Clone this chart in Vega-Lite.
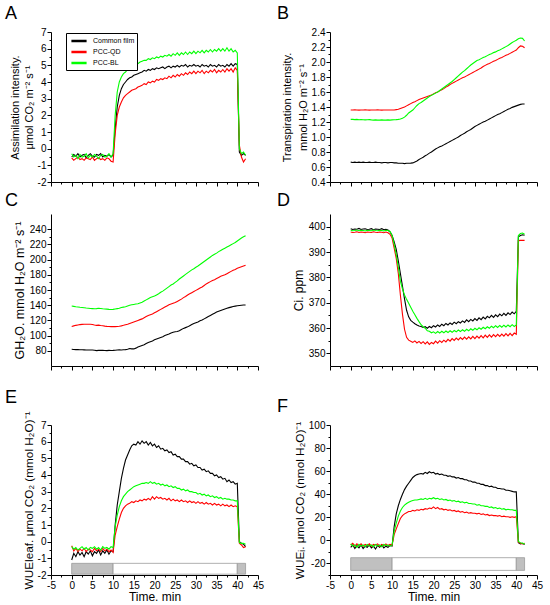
{
"$schema":"https://vega.github.io/schema/vega-lite/v6.json",
"background":"white",
"padding":5,
"config":{"font":"Liberation Sans","view":{"stroke":null},
"axis":{"grid":false,"domainColor":"#000","tickColor":"#000","labelColor":"#000","titleColor":"#000","labelFontSize":10,"titleFontSize":11,"titleFontWeight":"normal","tickSize":4,"labelPadding":1,"titlePadding":3,"labelFont":"Liberation Sans","titleFont":"Liberation Sans","domainWidth":1,"tickWidth":1,"labelFlush":false,"labelOverlap":false},
"title":{"fontSize":18,"fontWeight":"normal","anchor":"start","frame":"group","color":"#000","font":"Liberation Sans"}},
"data":{"values":[
{"t":0,"a1":-0.5,"a2":-0.55,"a3":-0.3,"b1":0.665,"b2":1.36,"b3":1.235,"c1":82,"c2":112,"c3":139,"d1":399.2,"d2":397.9,"d3":398.6,"e1":-1.1,"e2":-0.25,"e3":-0.3,"f1":-6,"f2":-4,"f3":-3},
{"t":0.5,"a1":-0.35,"a2":-0.7,"a3":-0.5,"b1":0.66,"b2":1.36,"b3":1.235,"c1":81.8,"c2":112.8,"c3":138.5,"d1":398.9,"d2":397.7,"d3":398.4,"e1":-0.7,"e2":-0.55,"e3":-0.45,"f1":-4,"f2":-2.5,"f3":-5},
{"t":1,"a1":-0.45,"a2":-0.6,"a3":-0.4,"b1":0.665,"b2":1.362,"b3":1.232,"c1":81.6,"c2":113.5,"c3":138,"d1":399.1,"d2":397.8,"d3":398.5,"e1":-0.9,"e2":-0.4,"e3":-0.35,"f1":-7,"f2":-5,"f3":-4},
{"t":1.5,"a1":-0.3,"a2":-0.5,"a3":-0.6,"b1":0.66,"b2":1.36,"b3":1.235,"c1":81.5,"c2":114,"c3":137.7,"d1":399.0,"d2":398.0,"d3":398.7,"e1":-0.6,"e2":-0.6,"e3":-0.5,"f1":-4.5,"f2":-3,"f3":-6},
{"t":2,"a1":-0.5,"a2":-0.65,"a3":-0.35,"b1":0.665,"b2":1.358,"b3":1.23,"c1":81.4,"c2":114.5,"c3":137.3,"d1":399.3,"d2":397.7,"d3":398.4,"e1":-0.8,"e2":-0.45,"e3":-0.4,"f1":-6.5,"f2":-4.5,"f3":-3.5},
{"t":2.5,"a1":-0.4,"a2":-0.6,"a3":-0.5,"b1":0.66,"b2":1.36,"b3":1.232,"c1":81.3,"c2":114.8,"c3":137,"d1":398.9,"d2":397.9,"d3":398.6,"e1":-0.65,"e2":-0.55,"e3":-0.3,"f1":-4,"f2":-3,"f3":-5},
{"t":3,"a1":-0.35,"a2":-0.7,"a3":-0.45,"b1":0.665,"b2":1.36,"b3":1.23,"c1":81.2,"c2":115,"c3":136.7,"d1":399.1,"d2":397.8,"d3":398.5,"e1":-0.9,"e2":-0.4,"e3":-0.45,"f1":-7,"f2":-5,"f3":-4},
{"t":3.5,"a1":-0.55,"a2":-0.55,"a3":-0.3,"b1":0.66,"b2":1.362,"b3":1.228,"c1":81.1,"c2":115,"c3":136.3,"d1":399.2,"d2":397.6,"d3":398.3,"e1":-0.6,"e2":-0.6,"e3":-0.35,"f1":-5,"f2":-3.5,"f3":-5.5},
{"t":4,"a1":-0.4,"a2":-0.6,"a3":-0.55,"b1":0.66,"b2":1.36,"b3":1.23,"c1":81,"c2":115,"c3":136,"d1":398.9,"d2":397.9,"d3":398.6,"e1":-0.75,"e2":-0.45,"e3":-0.5,"f1":-6,"f2":-4.5,"f3":-3.5},
{"t":4.5,"a1":-0.3,"a2":-0.65,"a3":-0.4,"b1":0.665,"b2":1.358,"b3":1.232,"c1":81,"c2":115,"c3":135.7,"d1":399.0,"d2":397.8,"d3":398.5,"e1":-0.55,"e2":-0.5,"e3":-0.35,"f1":-4,"f2":-3,"f3":-5},
{"t":5,"a1":-0.45,"a2":-0.5,"a3":-0.5,"b1":0.66,"b2":1.36,"b3":1.228,"c1":81,"c2":114.7,"c3":135.5,"d1":399.2,"d2":397.7,"d3":398.4,"e1":-0.85,"e2":-0.6,"e3":-0.4,"f1":-6.5,"f2":-5,"f3":-4},
{"t":5.5,"a1":-0.5,"a2":-0.7,"a3":-0.35,"b1":0.66,"b2":1.36,"b3":1.225,"c1":80.8,"c2":114,"c3":135.3,"d1":398.8,"d2":398.0,"d3":398.7,"e1":-0.6,"e2":-0.4,"e3":-0.3,"f1":-5,"f2":-3.5,"f3":-5.5},
{"t":6,"a1":-0.35,"a2":-0.6,"a3":-0.45,"b1":0.665,"b2":1.36,"b3":1.228,"c1":80.2,"c2":113.5,"c3":135.5,"d1":399.1,"d2":397.8,"d3":398.5,"e1":-0.7,"e2":-0.55,"e3":-0.45,"f1":-7.5,"f2":-4,"f3":-3.5},
{"t":6.5,"a1":-0.4,"a2":-0.55,"a3":-0.6,"b1":0.66,"b2":1.362,"b3":1.225,"c1":80.5,"c2":113.8,"c3":136,"d1":399.0,"d2":397.7,"d3":398.4,"e1":-0.5,"e2":-0.45,"e3":-0.35,"f1":-4.5,"f2":-3,"f3":-5},
{"t":7,"a1":-0.3,"a2":-0.65,"a3":-0.4,"b1":0.66,"b2":1.36,"b3":1.225,"c1":80.8,"c2":113.3,"c3":135.7,"d1":398.9,"d2":397.9,"d3":398.6,"e1":-0.8,"e2":-0.6,"e3":-0.5,"f1":-6,"f2":-5,"f3":-4},
{"t":7.5,"a1":-0.5,"a2":-0.6,"a3":-0.35,"b1":0.655,"b2":1.358,"b3":1.228,"c1":80.6,"c2":113,"c3":135.3,"d1":399.2,"d2":397.8,"d3":398.5,"e1":-0.55,"e2":-0.4,"e3":-0.3,"f1":-4,"f2":-3.5,"f3":-5.5},
{"t":8,"a1":-0.4,"a2":-0.7,"a3":-0.5,"b1":0.66,"b2":1.36,"b3":1.225,"c1":80.4,"c2":112.5,"c3":135,"d1":398.8,"d2":397.6,"d3":398.3,"e1":-0.7,"e2":-0.55,"e3":-0.4,"f1":-6.5,"f2":-4.5,"f3":-3.5},
{"t":8.5,"a1":-0.45,"a2":-0.55,"a3":-0.45,"b1":0.66,"b2":1.36,"b3":1.225,"c1":80.2,"c2":112.2,"c3":134.8,"d1":399.0,"d2":397.9,"d3":398.6,"e1":-0.5,"e2":-0.45,"e3":-0.35,"f1":-5,"f2":-3,"f3":-4.5},
{"t":9,"a1":-0.35,"a2":-0.6,"a3":-0.3,"b1":0.655,"b2":1.36,"b3":1.228,"c1":80.5,"c2":112,"c3":134.5,"d1":398.7,"d2":397.6,"d3":398.5,"e1":-0.75,"e2":-0.6,"e3":-0.45,"f1":-6,"f2":-4.5,"f3":-4},
{"t":9.5,"a1":-0.5,"a2":-0.75,"a3":-0.5,"b1":0.66,"b2":1.36,"b3":1.225,"c1":80.3,"c2":111.8,"c3":134.3,"d1":398,"d2":397,"d3":398.1,"e1":-0.55,"e2":-0.5,"e3":-0.3,"f1":-4.5,"f2":-3.5,"f3":-5},
{"t":10,"a1":-0.4,"a2":-0.8,"a3":-0.3,"b1":0.66,"b2":1.36,"b3":1.228,"c1":80.5,"c2":111.8,"c3":134.5,"d1":396.5,"d2":395.5,"d3":396.5,"e1":-0.6,"e2":-0.65,"e3":-0.35,"f1":-5,"f2":-4,"f3":-4},
{"t":10.5,"a1":1.2,"a2":0.9,"a3":2.0,"b1":0.655,"b2":1.36,"b3":1.23,"c1":80.8,"c2":111.8,"c3":135,"d1":394,"d2":391.5,"d3":393,"e1":1.0,"e2":0.4,"e3":0.9,"f1":12,"f2":5,"f3":8},
{"t":11,"a1":2.5,"a2":2.0,"a3":3.4,"b1":0.655,"b2":1.365,"b3":1.232,"c1":81,"c2":112,"c3":135.5,"d1":391,"d2":387.5,"d3":389,"e1":2.2,"e2":0.9,"e3":1.6,"f1":23,"f2":10,"f3":15},
{"t":11.5,"a1":3.2,"a2":2.5,"a3":4.0,"b1":0.65,"b2":1.37,"b3":1.235,"c1":81.2,"c2":112.3,"c3":136,"d1":386.5,"d2":381.5,"d3":384,"e1":3.0,"e2":1.35,"e3":2.1,"f1":30,"f2":14.5,"f3":21},
{"t":12,"a1":3.6,"a2":2.8,"a3":4.3,"b1":0.65,"b2":1.38,"b3":1.24,"c1":81.1,"c2":112.8,"c3":137,"d1":381.5,"d2":373,"d3":378.5,"e1":3.8,"e2":1.75,"e3":2.45,"f1":35.5,"f2":19,"f3":25.5},
{"t":12.5,"a1":3.85,"a2":3.05,"a3":4.5,"b1":0.65,"b2":1.39,"b3":1.25,"c1":81.3,"c2":113.5,"c3":137.5,"d1":376.5,"d2":365.5,"d3":375.5,"e1":4.4,"e2":2.0,"e3":2.7,"f1":40,"f2":21.5,"f3":28.5},
{"t":13,"a1":4.0,"a2":3.2,"a3":4.6,"b1":0.645,"b2":1.40,"b3":1.265,"c1":81.5,"c2":114.3,"c3":138,"d1":371.5,"d2":359.5,"d3":373,"e1":4.9,"e2":2.15,"e3":2.85,"f1":44,"f2":23,"f3":30.5},
{"t":13.5,"a1":4.15,"a2":3.3,"a3":4.75,"b1":0.65,"b2":1.415,"b3":1.29,"c1":82,"c2":115,"c3":139,"d1":367,"d2":356.3,"d3":371.3,"e1":5.2,"e2":2.25,"e3":3.0,"f1":47,"f2":24,"f3":32},
{"t":14,"a1":4.25,"a2":3.4,"a3":4.85,"b1":0.65,"b2":1.43,"b3":1.32,"c1":83,"c2":116,"c3":140,"d1":364.4,"d2":355.2,"d3":369.8,"e1":5.5,"e2":2.3,"e3":3.1,"f1":49.5,"f2":25,"f3":33},
{"t":14.5,"a1":4.3,"a2":3.5,"a3":4.9,"b1":0.652,"b2":1.445,"b3":1.34,"c1":82.5,"c2":117,"c3":140.5,"d1":363,"d2":354.8,"d3":368.2,"e1":5.75,"e2":2.4,"e3":3.2,"f1":52,"f2":25,"f3":34},
{"t":15,"a1":4.4,"a2":3.55,"a3":5.0,"b1":0.655,"b2":1.46,"b3":1.36,"c1":82.5,"c2":118,"c3":141,"d1":362.3,"d2":354.3,"d3":366.6,"e1":5.85,"e2":2.35,"e3":3.3,"f1":54.5,"f2":26,"f3":34.5},
{"t":15.5,"a1":4.45,"a2":3.6,"a3":5.1,"b1":0.668,"b2":1.47,"b3":1.39,"c1":83.5,"c2":119,"c3":141.5,"d1":361.7,"d2":354.9,"d3":365.2,"e1":5.8,"e2":2.45,"e3":3.35,"f1":56,"f2":25.5,"f3":35},
{"t":16,"a1":4.5,"a2":3.7,"a3":5.1,"b1":0.68,"b2":1.485,"b3":1.42,"c1":85,"c2":120,"c3":142,"d1":361.2,"d2":354.1,"d3":363.8,"e1":6.0,"e2":2.4,"e3":3.4,"f1":57,"f2":26.5,"f3":35},
{"t":16.5,"a1":4.55,"a2":3.75,"a3":5.2,"b1":0.70,"b2":1.50,"b3":1.445,"c1":86,"c2":121,"c3":143,"d1":360.8,"d2":354.7,"d3":362.5,"e1":5.85,"e2":2.5,"e3":3.45,"f1":57.5,"f2":26,"f3":35.5},
{"t":17,"a1":4.6,"a2":3.8,"a3":5.25,"b1":0.715,"b2":1.51,"b3":1.46,"c1":87,"c2":122,"c3":144,"d1":360.6,"d2":353.9,"d3":361.3,"e1":6.05,"e2":2.45,"e3":3.5,"f1":58,"f2":27,"f3":36},
{"t":17.5,"a1":4.7,"a2":3.9,"a3":5.3,"b1":0.73,"b2":1.52,"b3":1.48,"c1":88,"c2":123.5,"c3":145.5,"d1":360.2,"d2":354.6,"d3":360.5,"e1":5.9,"e2":2.55,"e3":3.5,"f1":57.5,"f2":26.5,"f3":35.5},
{"t":18,"a1":4.65,"a2":3.85,"a3":5.3,"b1":0.75,"b2":1.53,"b3":1.50,"c1":89.5,"c2":125,"c3":147,"d1":360.5,"d2":353.7,"d3":359.9,"e1":6.0,"e2":2.5,"e3":3.55,"f1":59,"f2":27.5,"f3":36.5},
{"t":18.5,"a1":4.75,"a2":4.0,"a3":5.4,"b1":0.765,"b2":1.54,"b3":1.52,"c1":91,"c2":126.5,"c3":148.5,"d1":359.9,"d2":354.5,"d3":358.9,"e1":5.8,"e2":2.6,"e3":3.5,"f1":58,"f2":27,"f3":35.5},
{"t":19,"a1":4.7,"a2":3.95,"a3":5.35,"b1":0.785,"b2":1.55,"b3":1.54,"c1":92,"c2":127.5,"c3":150,"d1":360.6,"d2":353.5,"d3":358.7,"e1":5.95,"e2":2.5,"e3":3.6,"f1":59.5,"f2":28,"f3":36.5},
{"t":19.5,"a1":4.8,"a2":4.05,"a3":5.45,"b1":0.80,"b2":1.56,"b3":1.555,"c1":93,"c2":128.5,"c3":151,"d1":360.1,"d2":354.3,"d3":358.1,"e1":5.75,"e2":2.7,"e3":3.5,"f1":58.5,"f2":27.5,"f3":36},
{"t":20,"a1":4.75,"a2":4.0,"a3":5.4,"b1":0.82,"b2":1.575,"b3":1.57,"c1":94.5,"c2":130,"c3":152,"d1":360.9,"d2":353.8,"d3":358.5,"e1":5.85,"e2":2.55,"e3":3.55,"f1":59,"f2":29,"f3":37},
{"t":20.5,"a1":4.85,"a2":4.15,"a3":5.5,"b1":0.84,"b2":1.59,"b3":1.585,"c1":95.5,"c2":131.5,"c3":153.5,"d1":360.4,"d2":354.8,"d3":357.9,"e1":5.65,"e2":2.7,"e3":3.45,"f1":57.5,"f2":27.5,"f3":36},
{"t":21,"a1":4.8,"a2":4.1,"a3":5.45,"b1":0.855,"b2":1.60,"b3":1.60,"c1":96.5,"c2":133,"c3":155,"d1":361.2,"d2":354,"d3":358.6,"e1":5.75,"e2":2.6,"e3":3.5,"f1":58,"f2":28.5,"f3":36.5},
{"t":21.5,"a1":4.85,"a2":4.2,"a3":5.55,"b1":0.87,"b2":1.615,"b3":1.62,"c1":97.5,"c2":134.5,"c3":157,"d1":360.6,"d2":355,"d3":358,"e1":5.55,"e2":2.65,"e3":3.4,"f1":57,"f2":27,"f3":35.5},
{"t":22,"a1":4.9,"a2":4.15,"a3":5.5,"b1":0.88,"b2":1.63,"b3":1.64,"c1":98.5,"c2":136,"c3":158.5,"d1":361.5,"d2":354.3,"d3":358.7,"e1":5.6,"e2":2.55,"e3":3.45,"f1":57.5,"f2":27.5,"f3":36},
{"t":22.5,"a1":4.8,"a2":4.25,"a3":5.6,"b1":0.895,"b2":1.645,"b3":1.66,"c1":100,"c2":137.5,"c3":160.5,"d1":360.9,"d2":355.2,"d3":358.1,"e1":5.45,"e2":2.6,"e3":3.35,"f1":56.5,"f2":26.5,"f3":35},
{"t":23,"a1":4.9,"a2":4.2,"a3":5.55,"b1":0.91,"b2":1.665,"b3":1.68,"c1":101,"c2":139,"c3":162.5,"d1":361.8,"d2":354.5,"d3":358.8,"e1":5.5,"e2":2.5,"e3":3.4,"f1":56.5,"f2":27,"f3":35.5},
{"t":23.5,"a1":4.95,"a2":4.35,"a3":5.65,"b1":0.925,"b2":1.68,"b3":1.70,"c1":102,"c2":140.5,"c3":164.5,"d1":361.2,"d2":355.5,"d3":358.2,"e1":5.35,"e2":2.6,"e3":3.3,"f1":55.5,"f2":26,"f3":34.5},
{"t":24,"a1":4.85,"a2":4.25,"a3":5.55,"b1":0.94,"b2":1.70,"b3":1.72,"c1":103.5,"c2":141.5,"c3":166.5,"d1":362,"d2":354.8,"d3":358.9,"e1":5.4,"e2":2.45,"e3":3.35,"f1":56,"f2":26.5,"f3":35},
{"t":24.5,"a1":4.95,"a2":4.4,"a3":5.7,"b1":0.955,"b2":1.715,"b3":1.74,"c1":104.5,"c2":142.5,"c3":168,"d1":361.4,"d2":355.8,"d3":358.3,"e1":5.2,"e2":2.55,"e3":3.25,"f1":55,"f2":25.5,"f3":34},
{"t":25,"a1":4.9,"a2":4.3,"a3":5.6,"b1":0.97,"b2":1.73,"b3":1.765,"c1":105,"c2":143.5,"c3":170,"d1":362.3,"d2":355.1,"d3":359,"e1":5.25,"e2":2.45,"e3":3.3,"f1":55,"f2":26,"f3":34.5},
{"t":25.5,"a1":5.0,"a2":4.45,"a3":5.75,"b1":0.985,"b2":1.745,"b3":1.79,"c1":105.5,"c2":145,"c3":172,"d1":361.7,"d2":356,"d3":358.5,"e1":5.1,"e2":2.5,"e3":3.2,"f1":54,"f2":25,"f3":33.5},
{"t":26,"a1":4.9,"a2":4.35,"a3":5.6,"b1":1.0,"b2":1.76,"b3":1.815,"c1":106.5,"c2":146.5,"c3":174.5,"d1":362.5,"d2":355.3,"d3":359.2,"e1":5.1,"e2":2.4,"e3":3.2,"f1":54.5,"f2":25.5,"f3":34},
{"t":26.5,"a1":5.0,"a2":4.5,"a3":5.75,"b1":1.02,"b2":1.775,"b3":1.84,"c1":108,"c2":148,"c3":176.5,"d1":362,"d2":356.2,"d3":358.6,"e1":4.95,"e2":2.5,"e3":3.1,"f1":53.5,"f2":24.5,"f3":33},
{"t":27,"a1":4.95,"a2":4.4,"a3":5.65,"b1":1.035,"b2":1.79,"b3":1.865,"c1":109.5,"c2":150,"c3":178.5,"d1":362.8,"d2":355.5,"d3":359.3,"e1":4.95,"e2":2.4,"e3":3.15,"f1":53.5,"f2":25,"f3":33.5},
{"t":27.5,"a1":5.05,"a2":4.55,"a3":5.8,"b1":1.05,"b2":1.80,"b3":1.885,"c1":110.5,"c2":151.5,"c3":180.5,"d1":362.2,"d2":356.4,"d3":358.7,"e1":4.8,"e2":2.45,"e3":3.05,"f1":52.5,"f2":24,"f3":32.5},
{"t":28,"a1":4.9,"a2":4.45,"a3":5.65,"b1":1.07,"b2":1.815,"b3":1.91,"c1":111.5,"c2":153.5,"c3":182.5,"d1":363.2,"d2":355.6,"d3":359.5,"e1":4.8,"e2":2.35,"e3":3.1,"f1":52.5,"f2":24.5,"f3":33},
{"t":28.5,"a1":5.0,"a2":4.6,"a3":5.8,"b1":1.085,"b2":1.83,"b3":1.935,"c1":113,"c2":155,"c3":184.5,"d1":362.5,"d2":356.5,"d3":358.9,"e1":4.65,"e2":2.45,"e3":3.0,"f1":51.5,"f2":23.5,"f3":32},
{"t":29,"a1":4.95,"a2":4.5,"a3":5.7,"b1":1.10,"b2":1.845,"b3":1.96,"c1":114.5,"c2":156.5,"c3":186.5,"d1":363.4,"d2":355.7,"d3":359.7,"e1":4.7,"e2":2.35,"e3":3.0,"f1":51.5,"f2":24,"f3":32},
{"t":29.5,"a1":5.05,"a2":4.65,"a3":5.85,"b1":1.12,"b2":1.86,"b3":1.98,"c1":116,"c2":158,"c3":188,"d1":362.8,"d2":356.7,"d3":359.1,"e1":4.55,"e2":2.4,"e3":2.95,"f1":50.5,"f2":23.5,"f3":31.5},
{"t":30,"a1":4.95,"a2":4.5,"a3":5.7,"b1":1.14,"b2":1.875,"b3":2.0,"c1":117,"c2":159.5,"c3":190,"d1":363.7,"d2":355.8,"d3":359.9,"e1":4.6,"e2":2.3,"e3":2.95,"f1":50.5,"f2":23.5,"f3":31.5},
{"t":30.5,"a1":5.0,"a2":4.65,"a3":5.85,"b1":1.155,"b2":1.89,"b3":2.02,"c1":118,"c2":161,"c3":191.5,"d1":363,"d2":356.8,"d3":359.3,"e1":4.45,"e2":2.4,"e3":2.85,"f1":49.5,"f2":23,"f3":30.5},
{"t":31,"a1":4.9,"a2":4.55,"a3":5.75,"b1":1.17,"b2":1.905,"b3":2.03,"c1":119.5,"c2":162.5,"c3":193.5,"d1":364,"d2":356,"d3":360.1,"e1":4.45,"e2":2.3,"e3":2.9,"f1":49.5,"f2":23.5,"f3":31},
{"t":31.5,"a1":5.05,"a2":4.7,"a3":5.9,"b1":1.185,"b2":1.92,"b3":2.045,"c1":120.5,"c2":164,"c3":195.5,"d1":363.3,"d2":357,"d3":359.5,"e1":4.3,"e2":2.35,"e3":2.8,"f1":48.5,"f2":22.5,"f3":30},
{"t":32,"a1":4.95,"a2":4.5,"a3":5.75,"b1":1.20,"b2":1.94,"b3":2.06,"c1":122,"c2":166,"c3":197.5,"d1":364.3,"d2":356.1,"d3":360.3,"e1":4.35,"e2":2.25,"e3":2.85,"f1":48.5,"f2":23,"f3":30},
{"t":32.5,"a1":5.0,"a2":4.65,"a3":5.9,"b1":1.21,"b2":1.955,"b3":2.07,"c1":123.5,"c2":168,"c3":199.5,"d1":363.6,"d2":357.2,"d3":359.7,"e1":4.2,"e2":2.35,"e3":2.75,"f1":47.5,"f2":22,"f3":29.5},
{"t":33,"a1":4.9,"a2":4.55,"a3":5.8,"b1":1.225,"b2":1.97,"b3":2.085,"c1":125,"c2":169.5,"c3":201.5,"d1":364.6,"d2":356.3,"d3":360.5,"e1":4.25,"e2":2.25,"e3":2.8,"f1":47.5,"f2":22.5,"f3":29.5},
{"t":33.5,"a1":5.05,"a2":4.7,"a3":5.95,"b1":1.24,"b2":1.98,"b3":2.10,"c1":126.5,"c2":171,"c3":203.5,"d1":364,"d2":357.3,"d3":359.9,"e1":4.1,"e2":2.3,"e3":2.7,"f1":46.5,"f2":21.5,"f3":28.5},
{"t":34,"a1":4.95,"a2":4.6,"a3":5.8,"b1":1.255,"b2":1.995,"b3":2.11,"c1":128,"c2":172.5,"c3":205.5,"d1":365,"d2":356.4,"d3":360.7,"e1":4.1,"e2":2.2,"e3":2.75,"f1":47,"f2":22,"f3":29},
{"t":34.5,"a1":5.0,"a2":4.75,"a3":5.95,"b1":1.27,"b2":2.01,"b3":2.125,"c1":129.5,"c2":173.5,"c3":207,"d1":364.2,"d2":357.4,"d3":360.1,"e1":3.95,"e2":2.3,"e3":2.65,"f1":46,"f2":21.5,"f3":28},
{"t":35,"a1":4.9,"a2":4.55,"a3":5.85,"b1":1.285,"b2":2.02,"b3":2.135,"c1":131,"c2":175,"c3":208.5,"d1":365.2,"d2":356.6,"d3":360.9,"e1":4.0,"e2":2.2,"e3":2.7,"f1":46,"f2":21.5,"f3":28.5},
{"t":35.5,"a1":5.05,"a2":4.7,"a3":6.0,"b1":1.30,"b2":2.035,"b3":2.15,"c1":132,"c2":176.5,"c3":210.5,"d1":364.5,"d2":357.5,"d3":360.2,"e1":3.85,"e2":2.25,"e3":2.6,"f1":45,"f2":21,"f3":27.5},
{"t":36,"a1":4.95,"a2":4.6,"a3":5.85,"b1":1.31,"b2":2.05,"b3":2.16,"c1":133,"c2":178,"c3":212,"d1":365.5,"d2":356.7,"d3":361,"e1":3.9,"e2":2.15,"e3":2.65,"f1":45,"f2":21.5,"f3":28},
{"t":36.5,"a1":5.0,"a2":4.75,"a3":6.0,"b1":1.325,"b2":2.06,"b3":2.175,"c1":134,"c2":179,"c3":213.5,"d1":364.8,"d2":357.6,"d3":360.3,"e1":3.75,"e2":2.25,"e3":2.55,"f1":44.5,"f2":20.5,"f3":27},
{"t":37,"a1":4.9,"a2":4.6,"a3":5.85,"b1":1.34,"b2":2.075,"b3":2.19,"c1":135,"c2":180,"c3":215,"d1":365.8,"d2":356.8,"d3":361.1,"e1":3.8,"e2":2.15,"e3":2.6,"f1":44.5,"f2":21,"f3":27.5},
{"t":37.5,"a1":5.05,"a2":4.8,"a3":6.05,"b1":1.355,"b2":2.09,"b3":2.205,"c1":136,"c2":181.5,"c3":216.5,"d1":365,"d2":357.8,"d3":360.4,"e1":3.6,"e2":2.2,"e3":2.55,"f1":43.5,"f2":20.5,"f3":26.5},
{"t":38,"a1":4.95,"a2":4.65,"a3":5.85,"b1":1.37,"b2":2.10,"b3":2.22,"c1":136.8,"c2":183,"c3":218,"d1":366,"d2":356.9,"d3":361.2,"e1":3.7,"e2":2.1,"e3":2.55,"f1":43.5,"f2":20.5,"f3":27},
{"t":38.5,"a1":5.1,"a2":4.8,"a3":6.0,"b1":1.38,"b2":2.115,"b3":2.24,"c1":137.5,"c2":184.5,"c3":219.5,"d1":365.3,"d2":357.9,"d3":360.5,"e1":3.55,"e2":2.2,"e3":2.5,"f1":43,"f2":20,"f3":26.5},
{"t":39,"a1":4.95,"a2":4.6,"a3":5.8,"b1":1.395,"b2":2.13,"b3":2.26,"c1":138.2,"c2":186,"c3":221,"d1":366.3,"d2":357,"d3":361.3,"e1":3.6,"e2":2.1,"e3":2.5,"f1":42.5,"f2":20.5,"f3":26.5},
{"t":39.5,"a1":5.1,"a2":4.85,"a3":5.9,"b1":1.405,"b2":2.145,"b3":2.275,"c1":138.8,"c2":187,"c3":222.5,"d1":365.6,"d2":358,"d3":360.6,"e1":3.45,"e2":2.15,"e3":2.45,"f1":42,"f2":20,"f3":26},
{"t":40,"a1":5.05,"a2":4.7,"a3":5.75,"b1":1.415,"b2":2.16,"b3":2.29,"c1":139.3,"c2":188.5,"c3":224.5,"d1":366.6,"d2":357.5,"d3":361.2,"e1":3.5,"e2":2.1,"e3":2.45,"f1":42,"f2":20.5,"f3":26},
{"t":40.5,"a1":-0.2,"a2":0.2,"a3":0.0,"b1":1.425,"b2":2.19,"b3":2.31,"c1":139.7,"c2":189.5,"c3":226.5,"d1":396,"d2":394.5,"d3":396.5,"e1":0.0,"e2":-0.1,"e3":-0.05,"f1":-2,"f2":-1.5,"f3":-1},
{"t":41,"a1":-0.4,"a2":-0.5,"a3":-0.3,"b1":1.435,"b2":2.215,"b3":2.32,"c1":140,"c2":190.5,"c3":228.5,"d1":396.5,"d2":394.6,"d3":397.3,"e1":-0.1,"e2":-0.2,"e3":-0.1,"f1":-3,"f2":-2.5,"f3":-2},
{"t":41.5,"a1":-0.3,"a2":-0.8,"a3":-0.2,"b1":1.44,"b2":2.21,"b3":2.315,"c1":140.2,"c2":191.5,"c3":230,"d1":396.8,"d2":394.6,"d3":397.5,"e1":-0.15,"e2":-0.35,"e3":-0.1,"f1":-2.5,"f2":-3,"f3":-2.5},
{"t":42,"a1":-0.4,"a2":-0.6,"a3":-0.4,"b1":1.44,"b2":2.19,"b3":2.28,"c1":140.3,"c2":192.5,"c3":231.5,"d1":396.6,"d2":394.6,"d3":397,"e1":-0.3,"e2":-0.3,"e3":-0.15,"f1":-3.5,"f2":-2.5,"f3":-3}
]},
"columns":2,
"spacing":{"row":5,"column":13},
"resolve":{"scale":{"color":"independent"},"legend":{"color":"independent"}},
"concat":[
{"width":207,"height":150,"title":{"text":"A","dx":-46,"offset":4},
 "layer":[
  {"transform":[{"fold":["a1","a2","a3"],"as":["k","v"]}],
   "mark":{"type":"line","strokeWidth":1.1},
   "encoding":{
    "x":{"field":"t","type":"quantitative","scale":{"domain":[-5,45]},"axis":{"values":[-5,0,5,10,15,20,25,30,35,40,45],"labels":false,"title":null}},
    "y":{"field":"v","type":"quantitative","scale":{"domain":[-2,7]},"axis":{"values":[-2,-1,0,1,2,3,4,5,6,7],"title":["Assimilation intensity.","μmol CO₂ m⁻² s⁻¹"],"titleLineHeight":14,"labelExpr":"replace(datum.label,'−','-')"}},
    "color":{"field":"k","type":"nominal","scale":{"domain":["a1","a2","a3"],"range":["#000000","#ff0000","#00ff00"]},
     "legend":{"orient":"none","legendX":15,"legendY":1,"title":null,"labelExpr":"datum.label=='a1'?'Common film':datum.label=='a2'?'PCC-QD':'PCC-BL'","symbolType":"M-1.6,0H1.6","symbolStrokeWidth":2.5,"symbolSize":90,"labelFontSize":7,"labelColor":"#000","strokeColor":"#000","fillColor":"#fff","padding":2,"rowPadding":-0.5,"labelOffset":8,"symbolOffset":5}}}},
  {"data":{"values":[{}]},"mark":{"type":"point","opacity":0},
   "encoding":{
    "x":{"datum":0,"type":"quantitative","axis":{"orient":"bottom","values":[-2.5,2.5,7.5,12.5,17.5,22.5,27.5,32.5,37.5,42.5],"labels":false,"title":null,"tickSize":2,"domain":false}},
    "y":{"datum":0,"type":"quantitative","axis":{"orient":"left","values":[-1.5,-0.5,0.5,1.5,2.5,3.5,4.5,5.5,6.5],"labels":false,"title":null,"tickSize":2,"domain":false}}}}
 ],
 "resolve":{"axis":{"x":"independent","y":"independent"}}},
{"width":207,"height":150,"title":{"text":"B","dx":-53,"offset":4},
 "layer":[
  {"transform":[{"fold":["b1","b2","b3"],"as":["k","v"]}],
   "mark":{"type":"line","strokeWidth":1.1},
   "encoding":{
    "x":{"field":"t","type":"quantitative","scale":{"domain":[-5,45]},"axis":{"values":[-5,0,5,10,15,20,25,30,35,40,45],"labels":false,"title":null}},
    "y":{"field":"v","type":"quantitative","scale":{"domain":[0.4,2.4]},"axis":{"values":[0.4,0.6,0.8,1.0,1.2,1.4,1.6,1.8,2.0,2.2,2.4],"format":".1f","title":["Transpiration intensity.","mmol H₂O m⁻² s⁻¹"],"titleLineHeight":16}},
    "color":{"field":"k","type":"nominal","scale":{"domain":["b1","b2","b3"],"range":["#000000","#ff0000","#00ff00"]},"legend":null}}},
  {"data":{"values":[{}]},"mark":{"type":"point","opacity":0},
   "encoding":{
    "x":{"datum":0,"type":"quantitative","axis":{"orient":"bottom","values":[-2.5,2.5,7.5,12.5,17.5,22.5,27.5,32.5,37.5,42.5],"labels":false,"title":null,"tickSize":2,"domain":false}},
    "y":{"datum":1,"type":"quantitative","axis":{"orient":"left","values":[0.5,0.7,0.9,1.1,1.3,1.5,1.7,1.9,2.1,2.3],"labels":false,"title":null,"tickSize":2,"domain":false}}}}
 ],
 "resolve":{"axis":{"x":"independent","y":"independent"}}},
{"width":207,"height":152,"title":{"text":"C","dx":-46,"offset":4},
 "layer":[
  {"transform":[{"fold":["c1","c2","c3"],"as":["k","v"]}],
   "mark":{"type":"line","strokeWidth":1.1},
   "encoding":{
    "x":{"field":"t","type":"quantitative","scale":{"domain":[-5,45]},"axis":{"values":[-5,0,5,10,15,20,25,30,35,40,45],"labels":false,"title":" ","titleFontSize":10,"titlePadding":3}},
    "y":{"field":"v","type":"quantitative","scale":{"domain":[73.5,242.5]},"axis":{"values":[80,100,120,140,160,180,200,220,240],"title":"GH₂O. mmol H₂O m⁻² s⁻¹","titleFontSize":12.5}},
    "color":{"field":"k","type":"nominal","scale":{"domain":["c1","c2","c3"],"range":["#000000","#ff0000","#00ff00"]},"legend":null}}},
  {"data":{"values":[{}]},"mark":{"type":"point","opacity":0},
   "encoding":{
    "x":{"datum":0,"type":"quantitative","axis":{"orient":"bottom","values":[-2.5,2.5,7.5,12.5,17.5,22.5,27.5,32.5,37.5,42.5],"labels":false,"title":null,"tickSize":2,"domain":false}},
    "y":{"datum":100,"type":"quantitative","axis":{"orient":"left","values":[90,110,130,150,170,190,210,230],"labels":false,"title":null,"tickSize":2,"domain":false}}}}
 ],
 "resolve":{"axis":{"x":"independent","y":"independent"}}},
{"width":207,"height":152,"title":{"text":"D","dx":-53,"offset":4},
 "layer":[
  {"transform":[{"fold":["d1","d2","d3"],"as":["k","v"]}],
   "mark":{"type":"line","strokeWidth":1.1},
   "encoding":{
    "x":{"field":"t","type":"quantitative","scale":{"domain":[-5,45]},"axis":{"values":[-5,0,5,10,15,20,25,30,35,40,45],"labels":false,"title":" ","titleFontSize":10,"titlePadding":3}},
    "y":{"field":"v","type":"quantitative","scale":{"domain":[345,405]},"axis":{"values":[350,360,370,380,390,400],"title":"Ci. ppm","titleFontSize":12}},
    "color":{"field":"k","type":"nominal","scale":{"domain":["d1","d2","d3"],"range":["#000000","#ff0000","#00ff00"]},"legend":null}}},
  {"data":{"values":[{}]},"mark":{"type":"point","opacity":0},
   "encoding":{
    "x":{"datum":0,"type":"quantitative","axis":{"orient":"bottom","values":[-2.5,2.5,7.5,12.5,17.5,22.5,27.5,32.5,37.5,42.5],"labels":false,"title":null,"tickSize":2,"domain":false}},
    "y":{"datum":370,"type":"quantitative","axis":{"orient":"left","values":[355,365,375,385,395],"labels":false,"title":null,"tickSize":2,"domain":false}}}}
 ],
 "resolve":{"axis":{"x":"independent","y":"independent"}}},
{"width":207,"height":150,"title":{"text":"E","dx":-46,"offset":4},
 "layer":[
  {"data":{"values":[{"x0":0,"x1":10,"p":"dark"},{"x0":10,"x1":40,"p":"light"},{"x0":40,"x1":42,"p":"dark"}]},
   "mark":{"type":"rect","stroke":"#9a9a9a","strokeWidth":0.8},
   "encoding":{
    "x":{"field":"x0","type":"quantitative","axis":null},"x2":{"field":"x1"},
    "y":{"datum":-1.95,"type":"quantitative","axis":null},"y2":{"datum":-1.3},
    "fill":{"field":"p","type":"nominal","scale":{"domain":["dark","light"],"range":["#c0c0c0","#ffffff"]},"legend":null}}},
  {"transform":[{"fold":["e1","e2","e3"],"as":["k","v"]}],
   "mark":{"type":"line","strokeWidth":1.1},
   "encoding":{
    "x":{"field":"t","type":"quantitative","scale":{"domain":[-5,45]},"axis":{"values":[-5,0,5,10,15,20,25,30,35,40,45],"title":"Time. min","titleFontSize":12,"titlePadding":1,"labelExpr":"replace(datum.label,'−','-')"}},
    "y":{"field":"v","type":"quantitative","scale":{"domain":[-2,7]},"axis":{"values":[-2,-1,0,1,2,3,4,5,6,7],"title":"WUEleaf. μmol CO₂ (mmol H₂O)⁻¹","titleFontSize":11.8,"labelExpr":"replace(datum.label,'−','-')"}},
    "color":{"field":"k","type":"nominal","scale":{"domain":["e1","e2","e3"],"range":["#000000","#ff0000","#00ff00"]},"legend":null}}},
  {"data":{"values":[{}]},"mark":{"type":"point","opacity":0},
   "encoding":{
    "x":{"datum":0,"type":"quantitative","axis":{"orient":"bottom","values":[-2.5,2.5,7.5,12.5,17.5,22.5,27.5,32.5,37.5,42.5],"labels":false,"title":null,"tickSize":2,"domain":false}},
    "y":{"datum":0,"type":"quantitative","axis":{"orient":"left","values":[-1.5,-0.5,0.5,1.5,2.5,3.5,4.5,5.5,6.5],"labels":false,"title":null,"tickSize":2,"domain":false}}}}
 ],
 "resolve":{"axis":{"x":"independent","y":"independent"}}},
{"width":207,"height":150,"title":{"text":"F","dx":-53,"offset":4},
 "layer":[
  {"data":{"values":[{"x0":0,"x1":10,"p":"dark"},{"x0":10,"x1":40,"p":"light"},{"x0":40,"x1":42,"p":"dark"}]},
   "mark":{"type":"rect","stroke":"#9a9a9a","strokeWidth":0.8},
   "encoding":{
    "x":{"field":"x0","type":"quantitative","axis":null},"x2":{"field":"x1"},
    "y":{"datum":-26,"type":"quantitative","axis":null},"y2":{"datum":-15},
    "fill":{"field":"p","type":"nominal","scale":{"domain":["dark","light"],"range":["#c0c0c0","#ffffff"]},"legend":null}}},
  {"transform":[{"fold":["f1","f2","f3"],"as":["k","v"]}],
   "mark":{"type":"line","strokeWidth":1.1},
   "encoding":{
    "x":{"field":"t","type":"quantitative","scale":{"domain":[-5,45]},"axis":{"values":[-5,0,5,10,15,20,25,30,35,40,45],"title":"Time. min","titleFontSize":12,"titlePadding":1,"labelExpr":"replace(datum.label,'−','-')"}},
    "y":{"field":"v","type":"quantitative","scale":{"domain":[-30,100]},"axis":{"values":[-20,0,20,40,60,80,100],"title":"WUEᵢ. μmol CO₂ (nmol H₂O)⁻¹","titleFontSize":11.8,"labelExpr":"replace(datum.label,'−','-')"}},
    "color":{"field":"k","type":"nominal","scale":{"domain":["f1","f2","f3"],"range":["#000000","#ff0000","#00ff00"]},"legend":null}}},
  {"data":{"values":[{}]},"mark":{"type":"point","opacity":0},
   "encoding":{
    "x":{"datum":0,"type":"quantitative","axis":{"orient":"bottom","values":[-2.5,2.5,7.5,12.5,17.5,22.5,27.5,32.5,37.5,42.5],"labels":false,"title":null,"tickSize":2,"domain":false}},
    "y":{"datum":0,"type":"quantitative","axis":{"orient":"left","values":[-30,-10,10,30,50,70,90],"labels":false,"title":null,"tickSize":2,"domain":false}}}}
 ],
 "resolve":{"axis":{"x":"independent","y":"independent"}}}
]
}
